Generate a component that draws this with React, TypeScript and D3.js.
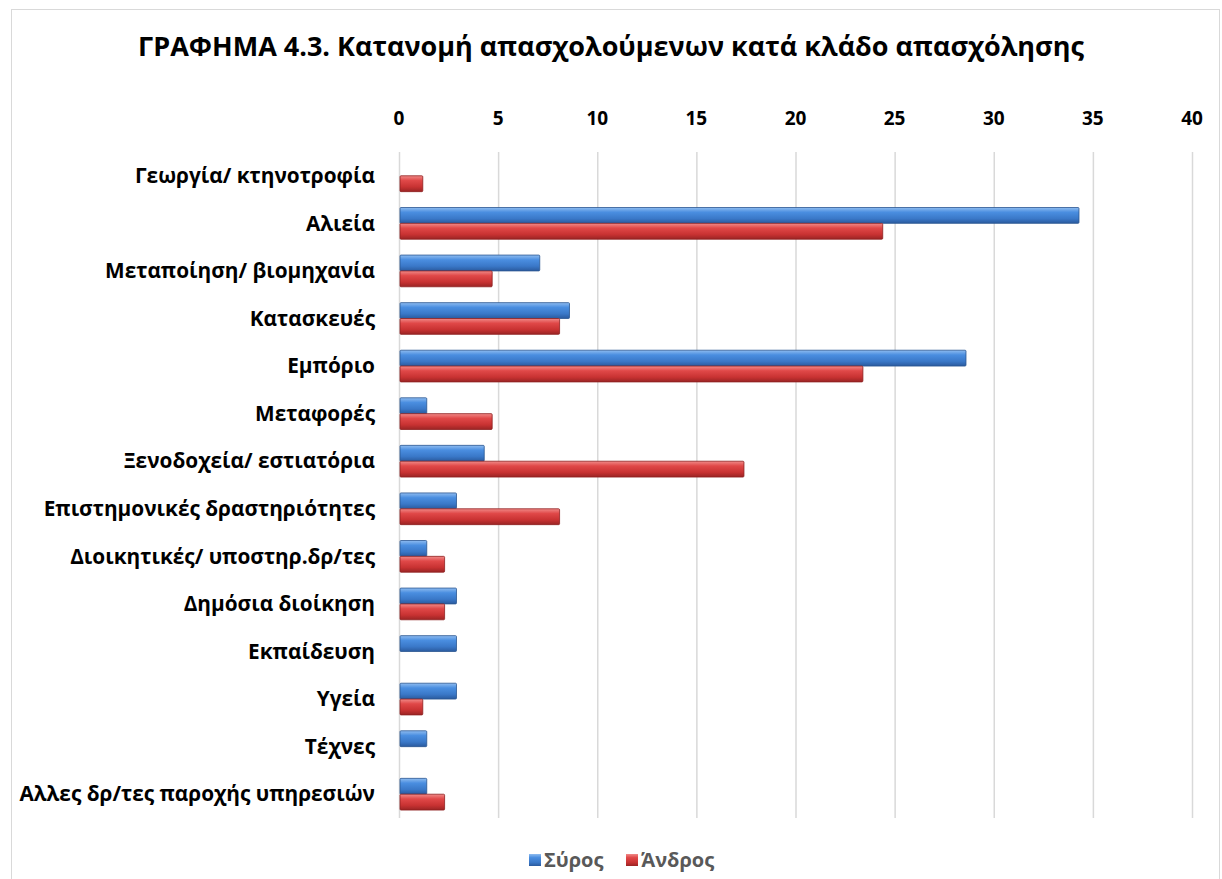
import * as d3 from 'd3'
import { useEffect, useRef } from 'react'

const categories = [
  'Γεωργία/ κτηνοτροφία',
  'Αλιεία',
  'Μεταποίηση/ βιομηχανία',
  'Κατασκευές',
  'Εμπόριο',
  'Μεταφορές',
  'Ξενοδοχεία/ εστιατόρια',
  'Επιστημονικές δραστηριότητες',
  'Διοικητικές/ υποστηρ.δρ/τες',
  'Δημόσια διοίκηση',
  'Εκπαίδευση',
  'Υγεία',
  'Τέχνες',
  'Αλλες δρ/τες παροχής υπηρεσιών',
]

const syrosValues = [0, 34.3, 7.1, 8.6, 28.6, 1.4, 4.3, 2.9, 1.4, 2.9, 2.9, 2.9, 1.4, 1.4]
const androsValues = [1.2, 24.4, 4.7, 8.1, 23.4, 4.7, 17.4, 8.1, 2.3, 2.3, 0, 1.2, 0, 2.3]

const seriesNames = ['Σύρος', 'Άνδρος']
const xTicks = [0, 5, 10, 15, 20, 25, 30, 35, 40]

const W = 1222
const H = 879
const FONT = '"Open Sans", "Noto Sans", sans-serif'

const App = () => {
  const ref = useRef<SVGSVGElement>(null)

  useEffect(() => {
    const svg = d3.select(ref.current)
    svg.selectAll('*').remove()

    const defs = svg.append('defs')
    const grads = [
      { id: 'gBlue', stops: ['#8fbcf0', '#4a8ee0', '#3a78c8', '#2a5a9e'] },
      { id: 'gRed', stops: ['#f08a88', '#e04848', '#c83232', '#9a2424'] },
    ]
    grads.forEach((g) => {
      const lg = defs
        .append('linearGradient')
        .attr('id', g.id)
        .attr('x1', 0)
        .attr('y1', 0)
        .attr('x2', 0)
        .attr('y2', 1)
      const offs = [0, 0.3, 0.7, 1]
      g.stops.forEach((c, i) => lg.append('stop').attr('offset', offs[i]).attr('stop-color', c))
    })

    svg
      .append('rect')
      .attr('x', 11.5)
      .attr('y', 9.5)
      .attr('width', 1208)
      .attr('height', 880)
      .attr('fill', '#fff')
      .attr('stroke', '#d9d9d9')

    const x = d3.scaleLinear().domain([0, 40]).range([399, 1192])
    const y = d3.scaleBand<string>().domain(categories).range([152, 818])
    const inner = d3
      .scaleBand<string>()
      .domain(seriesNames)
      .range([0, y.bandwidth()])
      .paddingInner(0)
      .paddingOuter(0.5)

    svg
      .append('text')
      .attr('x', 611)
      .attr('y', 56)
      .attr('text-anchor', 'middle')
      .attr('font-family', FONT)
      .attr('font-weight', 'bold')
      .attr('font-size', 27)
      .attr('fill', '#000')
      .text('ΓΡΑΦΗΜΑ 4.3. Κατανομή απασχολούμενων κατά κλάδο απασχόλησης')

    // gridlines
    svg
      .append('g')
      .selectAll('line')
      .data(xTicks)
      .enter()
      .append('line')
      .attr('x1', (d) => x(d) + 0.5)
      .attr('x2', (d) => x(d) + 0.5)
      .attr('y1', y.range()[0])
      .attr('y2', y.range()[1])
      .attr('stroke', '#d9d9d9')
      .attr('stroke-width', 1.5)

    // top axis labels
    svg
      .append('g')
      .selectAll('text')
      .data(xTicks)
      .enter()
      .append('text')
      .attr('x', (d) => x(d))
      .attr('y', 125)
      .attr('text-anchor', 'middle')
      .attr('font-family', FONT)
      .attr('font-weight', 'bold')
      .attr('font-size', 19)
      .attr('fill', '#000')
      .text((d) => d)

    // category labels
    svg
      .append('g')
      .selectAll('text')
      .data(categories)
      .enter()
      .append('text')
      .attr('x', 375)
      .attr('y', (d) => (y(d) ?? 0) + y.bandwidth() / 2)
      .attr('dy', '0.35em')
      .attr('text-anchor', 'end')
      .attr('font-family', FONT)
      .attr('font-weight', 'bold')
      .attr('font-size', 20.8)
      .attr('fill', '#000')
      .text((d) => d)

    const series = [
      { name: seriesNames[0], values: syrosValues, fill: 'url(#gBlue)', edge: '#2a5590' },
      { name: seriesNames[1], values: androsValues, fill: 'url(#gRed)', edge: '#8e2020' },
    ]

    series.forEach((s) => {
      const g = svg.append('g')
      g.selectAll('rect')
        .data(categories.map((c, i) => ({ c, v: s.values[i] })).filter((d) => d.v > 0))
        .enter()
        .append('rect')
        .attr('x', x(0) + 1)
        .attr('y', (d) => (y(d.c) ?? 0) + (inner(s.name) ?? 0))
        .attr('width', (d) => x(d.v) - x(0) - 1)
        .attr('height', inner.bandwidth())
        .attr('fill', s.fill)
        .attr('stroke', s.edge)
        .attr('stroke-width', 0.8)
        .attr('rx', 1)
    })

    // legend
    const legend = svg.append('g').attr('transform', 'translate(0,860)')
    const items = [
      { name: seriesNames[0], x: 529, fill: 'url(#gBlue)' },
      { name: seriesNames[1], x: 626, fill: 'url(#gRed)' },
    ]
    items.forEach((it) => {
      legend
        .append('rect')
        .attr('x', it.x)
        .attr('y', -6)
        .attr('width', 12)
        .attr('height', 12)
        .attr('fill', it.fill)
      legend
        .append('text')
        .attr('x', it.x + 15)
        .attr('y', 0)
        .attr('dy', '0.35em')
        .attr('font-family', FONT)
        .attr('font-weight', 'bold')
        .attr('font-size', 20)
        .attr('fill', '#595959')
        .text(it.name)
    })
  }, [])

  return (
    <svg
      ref={ref}
      width={W}
      height={H}
      style={{ position: 'absolute', left: 0, top: 0, display: 'block', background: '#fff' }}
    />
  )
}

export default App
